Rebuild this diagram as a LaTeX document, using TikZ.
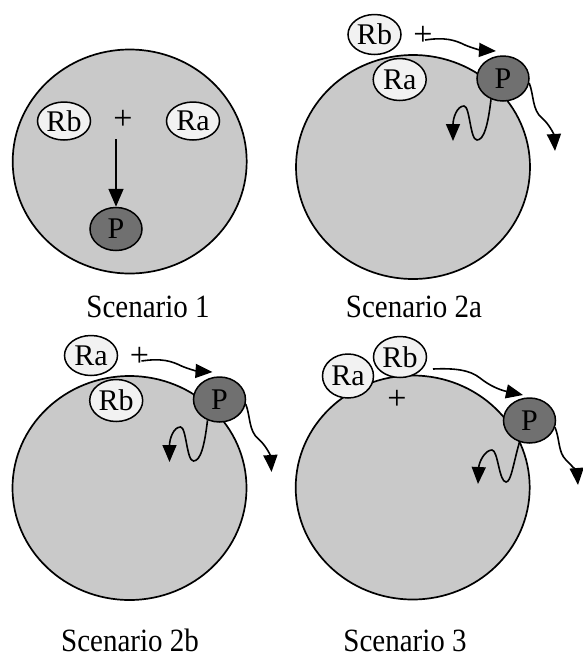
\documentclass[tikz,border=0pt]{standalone}
\usepackage{fontspec}
\setmainfont{Liberation Serif}
\usetikzlibrary{shapes.geometric,arrows.meta}
\definecolor{cellgray}{gray}{0.79}
\definecolor{pgray}{gray}{0.44}
\definecolor{rgray}{gray}{0.95}
\begin{document}
\begin{tikzpicture}[x=1pt,y=-1pt,
  cell/.style={ellipse,draw,line width=1.7pt,fill=cellgray,minimum width=234pt,minimum height=224pt,inner sep=0pt},
  rnode/.style={ellipse,draw,line width=1.5pt,fill=rgray,minimum width=53pt,minimum height=38pt,inner sep=0pt,font=\fontsize{30}{30}\selectfont},
  pnode/.style={ellipse,draw,line width=1.5pt,fill=pgray,minimum width=52pt,minimum height=45pt,inner sep=0pt,font=\fontsize{30}{30}\selectfont},
  plussign/.style={inner sep=0pt,font=\fontsize{34}{34}\selectfont},
  scenlabel/.style={anchor=base,inner sep=0pt,font=\fontsize{29}{29}\selectfont},
  wave/.style={line width=1.6pt,-{Triangle[length=17pt,width=14pt]}},
  straight/.style={line width=1.7pt,-{Triangle[length=18pt,width=15pt]}}
]
\path[use as bounding box,fill=white] (0,0) rectangle (583,657);

% ---------------- Scenario 1 ----------------
\node[cell] (c1) at (129.7,161.5) {};
\node[rnode] (s1rb) at (64,121) {Rb};
\node[plussign] (s1plus) at (123,120) {+};
\node[rnode] (s1ra) at (193,121) {Ra};
\node[pnode,minimum height=43pt] (s1p) at (116,229) {P};
\coordinate (s1start) at (116,139);
\draw[straight] (s1start) -- (s1p.north);
\node[scenlabel] (l1) at (148,317) {\scalebox{1}[1.12]{Scenario 1}};

% ---------------- Scenario 2a ----------------
\node[cell] (c2) at (413,167) {};
\node[rnode,minimum height=40pt] (s2rb) at (374.5,34.5) {Rb};
\node[plussign] (s2plus) at (423,36) {+};
\node[rnode,minimum height=42pt] (s2ra) at (399.7,79.5) {Ra};
\node[pnode] (s2p) at (503,78.5) {P};
\coordinate (s2a0) at (425,40);
\coordinate (s2a1) at (496,51);
\coordinate (s2b1) at (453,141);
\coordinate (s2c1) at (555,151);
\draw[wave] (s2a0) .. controls (445,37) and (455,40) .. (465,45) .. controls (472,48) and (480,50) .. (s2a1);
\draw[wave] (s2p.240) .. controls (488,125) and (484,140) .. (477,140) .. controls (470,140) and (470,106) .. (464,106) .. controls (457,106) and (453,118) .. (s2b1);
\draw[wave] (s2p.-10) .. controls (534,95) and (532,110) .. (542,118) .. controls (550,125) and (554,135) .. (s2c1);
\node[scenlabel] (l2) at (414,317) {\scalebox{1}[1.12]{Scenario 2a}};

% ---------------- Scenario 2b ----------------
\begin{scope}[shift={(-283.5,321)}]
\node[cell] (c3) at (413,167) {};
\node[rnode,minimum height=40pt] (s3ra) at (374.5,34.5) {Ra};
\node[plussign] (s3plus) at (423,36) {+};
\node[rnode,minimum height=42pt] (s3rb) at (399.7,79.5) {Rb};
\node[pnode] (s3p) at (503,78.5) {P};
\coordinate (s3a0) at (425,40);
\coordinate (s3a1) at (496,51);
\coordinate (s3b1) at (453,141);
\coordinate (s3c1) at (555,151);
\draw[wave] (s3a0) .. controls (445,37) and (455,40) .. (465,45) .. controls (472,48) and (480,50) .. (s3a1);
\draw[wave] (s3p.240) .. controls (488,125) and (484,140) .. (477,140) .. controls (470,140) and (470,106) .. (464,106) .. controls (457,106) and (453,118) .. (s3b1);
\draw[wave] (s3p.-10) .. controls (534,95) and (532,110) .. (542,118) .. controls (550,125) and (554,135) .. (s3c1);
\end{scope}
\node[scenlabel] (l3) at (130,651) {\scalebox{1}[1.12]{Scenario 2b}};

% ---------------- Scenario 3 ----------------
\node[cell] (c4) at (412.7,487.5) {};
\node[rnode,minimum width=51pt,minimum height=44pt] (s4ra) at (348,376) {Ra};
\node[rnode,minimum height=41pt] (s4rb) at (400,357) {Rb};
\node[plussign] (s4plus) at (397,400) {+};
\node[pnode] (s4p) at (529.5,420.5) {P};
\coordinate (s4a0) at (433,369);
\coordinate (s4a1) at (523,395);
\coordinate (s4b1) at (478,484);
\coordinate (s4c1) at (578,485);
\draw[wave] (s4a0) .. controls (455,368) and (470,370) .. (480,378) .. controls (490,386) and (500,390) .. (s4a1);
\draw[wave] (s4p.245) .. controls (513,465) and (511,482) .. (506,482) .. controls (499,482) and (498,450) .. (492,450) .. controls (485,450) and (479,462) .. (s4b1);
\draw[wave] (s4p.-15) .. controls (560,440) and (558,452) .. (566,460) .. controls (574,468) and (577,472) .. (s4c1);
\node[scenlabel] (l4) at (405,651) {\scalebox{1}[1.12]{Scenario 3}};
\end{tikzpicture}
\end{document}
